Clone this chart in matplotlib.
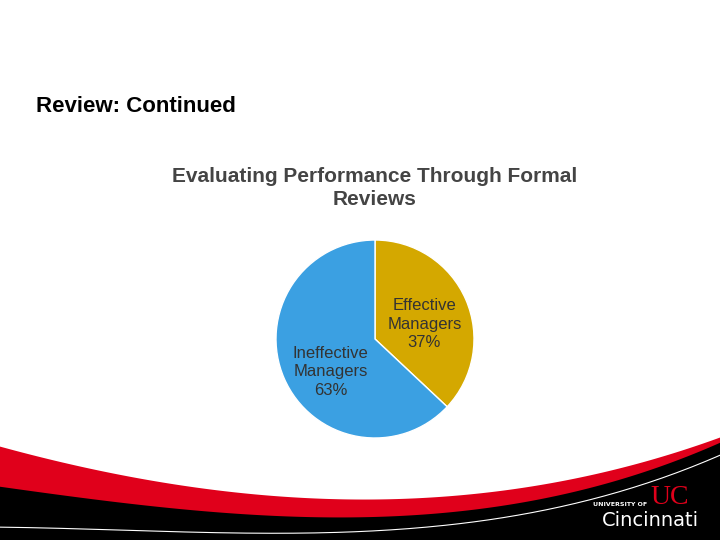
import matplotlib.pyplot as plt
import numpy as np

labels = ["Effective\nManagers\n37%", "Ineffective\nManagers\n63%"]
values = [37, 63]
colors = ["#D4A800", "#3BA0E2"]

W, H = 720, 540
fig = plt.figure(figsize=(7.2, 5.4), dpi=100)
bg = fig.add_axes([0, 0, 1, 1])
bg.set_xlim(0, W)
bg.set_ylim(H, 0)
bg.axis("off")


def curve(xs, ys):
    c = np.polyfit(xs, ys, 3)
    x = np.linspace(0, W, 200)
    return x, np.polyval(c, x)


# bottom banner: red swoosh, black band, thin white line
x, red_top = curve([0, 100, 300, 450, 600, 720], [447, 470, 498, 497, 472, 438])
_, blk_top = curve([0, 150, 300, 450, 600, 720], [487, 505, 518, 512, 485, 443])
_, wline = curve([0, 200, 400, 550, 720], [527, 533, 528, 510, 455])
bg.fill_between(x, red_top, H, color="#E0001B", lw=0)
bg.fill_between(x, blk_top, H, color="black", lw=0)
bg.plot(x, wline, color="white", lw=0.8)

# logo
bg.text(620, 504, "UNIVERSITY OF", color="white", fontsize=4.5,
        fontweight="bold", ha="center", va="center")
bg.text(670, 497, "UC", color="#E0001B", fontsize=20, ha="center",
        va="center", family="Liberation Serif")
bg.text(650, 521, "Cincinnati", color="white", fontsize=14, ha="center",
        va="center", family="Liberation Sans Narrow")

bg.text(36, 106, "Review: Continued", fontsize=16, fontweight="bold",
        ha="left", va="center", family="Liberation Sans")
bg.text(375, 188, "Evaluating Performance Through Formal\nReviews",
        fontsize=15, fontweight="bold", color="#444444", ha="center",
        va="center", family="Liberation Sans", linespacing=1.25)

ax = fig.add_axes([(375 - 99) / W, 1 - (339 + 99) / H, 198 / W, 198 / H])
ax.pie(values, colors=colors, startangle=90, counterclock=False,
       wedgeprops=dict(edgecolor="white", linewidth=1))
ax.set_aspect("auto")
ax.set_xlim(-1, 1)
ax.set_ylim(-1, 1)
ax.text(0.5, 0.15, labels[0], ha="center", va="center", fontsize=12,
        color="#333333", family="Liberation Sans", linespacing=1.3)
ax.text(-0.45, -0.33, labels[1], ha="center", va="center", fontsize=12,
        color="#333333", family="Liberation Sans", linespacing=1.3)

fig.savefig("out.png", dpi=100)
